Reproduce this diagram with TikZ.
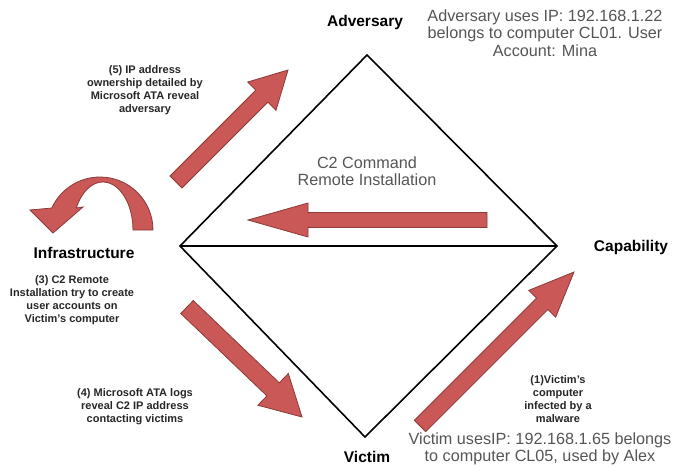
\documentclass[tikz,border=0pt]{standalone}
\usepackage{fontspec}
\setmainfont{Liberation Sans}
\usepackage{tikz}
\usetikzlibrary{arrows,shapes,positioning,calc}
\tikzset{>=stealth}

\definecolor{arrowred}{RGB}{201,88,86}
\definecolor{arrowedge}{RGB}{140,58,56}
\definecolor{notegray}{RGB}{85,85,85}

\tikzset{
	corner/.style={font=\fontsize{15.5}{18}\selectfont\bfseries, text=black},
	note/.style={font=\fontsize{16.2}{17.5}\selectfont, text=notegray, align=center},
	stepnote/.style={font=\fontsize{11}{13}\selectfont\bfseries, text=black!85, align=center},
	blockarrow/.style={fill=arrowred, draw=arrowedge, line width=0.8pt, line join=miter},
	edge/.style={line width=1.6pt, black}
}

% name, tail, tip, half shaft, half head, head length
\newcommand{\redarrow}[6]{%
	\coordinate (#1-h) at ($(#3)!#6!(#2)$);
	\filldraw[blockarrow] ($(#2)!#4!90:(#3)$) -- ($(#1-h)!#4!90:(#3)$) -- ($(#1-h)!#5!90:(#3)$) -- (#3)
		-- ($(#1-h)!#5!-90:(#3)$) -- ($(#1-h)!#4!-90:(#3)$) -- ($(#2)!#4!-90:(#3)$) -- cycle;
}

\begin{document}
\begin{tikzpicture}[x=1pt, y=-1pt]
	\useasboundingbox (0,0) rectangle (676,466);

	% diamond
	\coordinate (adv) at (367,55);
	\coordinate (cap) at (557,246);
	\coordinate (vic) at (365,437);
	\coordinate (inf) at (180,246);
	\draw[edge] (inf) -- (adv) -- (cap) -- (vic) -- cycle;
	\draw[edge] (inf) -- (cap);

	\node[corner] (advlabel) at (365,22) {Adversary};
	\node[corner] (caplabel) at (631,247) {Capability};
	\node[corner] (viclabel) at (367,457) {Victim};
	\node[corner] (inflabel) at (84,253) {Infrastructure};

	\node[note] (advnote) at (545,33) {Adversary uses IP: 192.168.1.22\\belongs to computer CL01. User\\Account: Mina};
	\node[note] (vicnote) at (540,449) {Victim usesIP: 192.168.1.65 belongs\\to computer CL05, used by Alex};
	\node[note] (c2note) at (367,171) {C2 Command\\Remote Installation};

	\node[stepnote] (step5) at (145,90) {(5) IP address\\ownership detailed by\\Microsoft ATA reveal\\adversary};
	\node[stepnote] (step3) at (72,300) {(3) C2 Remote\\Installation try to create\\user accounts on\\Victim's computer};
	\node[stepnote] (step4) at (135,407) {(4) Microsoft ATA logs\\reveal C2 IP address\\contacting victims};
	\node[stepnote] (step1) at (558,399) {(1)Victim's\\computer\\infected by a\\malware};

	% red arrows
	\coordinate (a5-tail) at (176,182);
	\coordinate (a5-tip) at (288,70);
	\coordinate (c2-tail) at (487,220);
	\coordinate (c2-tip) at (248,220);
	\coordinate (a4-tail) at (187,307);
	\coordinate (a4-tip) at (302,417);
	\coordinate (a1-tail) at (420,426);
	\coordinate (a1-tip) at (574,272);
	\redarrow{a5}{a5-tail}{a5-tip}{8.5pt}{20pt}{37pt}
	\redarrow{c2}{c2-tail}{c2-tip}{7.5pt}{17pt}{60pt}
	\redarrow{a4}{a4-tail}{a4-tip}{9pt}{22pt}{40pt}
	\redarrow{a1}{a1-tail}{a1-tip}{8pt}{19pt}{45pt}

	% loop arrow
	\filldraw[blockarrow] (153,230) arc[start angle=0, end angle=-155.5, radius=53]
		-- (30,210) -- (53,233) -- (83,207) -- (76.3,208)
		arc[start angle=-152.7, end angle=0, x radius=30, y radius=48] -- cycle;
\end{tikzpicture}
\end{document}
